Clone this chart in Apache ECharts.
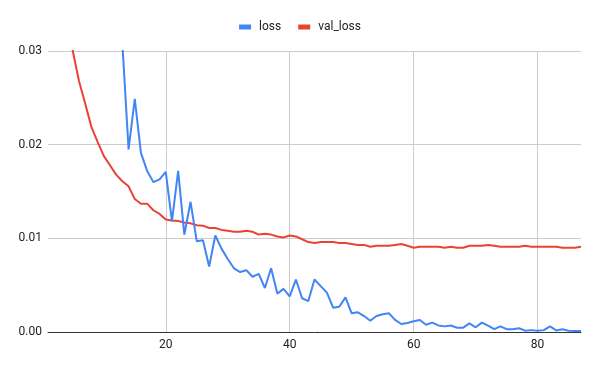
<!DOCTYPE html>
<html>
<head>
<meta charset="utf-8">
<script src="https://cdn.jsdelivr.net/npm/echarts@6/dist/echarts.min.js"></script>
<style>
html,body{margin:0;padding:0;background:#fff;}
#chart{width:600px;height:371px;}
</style>
</head>
<body>
<div id="chart"></div>
<script>
// Epoch numbers (x values)
var epochs = [1,2,3,4,5,6,7,8,9,10,11,12,13,14,15,16,17,18,19,20,
  21,22,23,24,25,26,27,28,29,30,31,32,33,34,35,36,37,38,39,40,
  41,42,43,44,45,46,47,48,49,50,51,52,53,54,55,56,57,58,59,60,
  61,62,63,64,65,66,67,68,69,70,71,72,73,74,75,76,77,78,79,80,
  81,82,83,84,85,86,87];

// Training loss (early values are above the visible range and are estimates)
var loss = [0.30,0.16,0.11,0.085,0.07,0.06,0.052,0.046,0.042,0.038,0.035,0.033,0.0308,
  0.0195,0.0249,0.0191,0.0172,0.0160,0.0163,0.0171,0.0118,0.0172,0.0104,0.0139,0.0097,
  0.0098,0.0070,0.0103,0.0089,0.0078,0.0068,0.0064,0.0066,0.0059,0.0062,0.0047,0.0068,
  0.0041,0.0046,0.0038,0.0056,0.0036,0.0033,0.0056,0.0049,0.0042,0.0026,0.0027,0.0037,
  0.0020,0.0021,0.0017,0.0012,0.0017,0.0019,0.0020,0.0013,0.00085,0.00096,0.00114,0.00128,
  0.00078,0.0010,0.0007,0.0006,0.0007,0.00046,0.00046,0.00092,0.0005,0.0010,0.00067,0.0003,
  0.0006,0.0003,0.0003,0.0004,0.00014,0.0002,0.00014,0.0002,0.0006,0.00017,0.0003,0.00014,
  0.0001,0.0001];

// Validation loss
var valLoss = [0.10,0.06,0.045,0.036,0.0300,0.0268,0.0244,0.0219,0.0203,0.0188,0.0178,0.0168,
  0.0161,0.01555,0.0142,0.0137,0.0137,0.0130,0.0126,0.0120,0.0119,0.01185,0.0117,0.0116,
  0.0114,0.01135,0.0111,0.0111,0.0109,0.0108,0.0107,0.0107,0.0108,0.0107,0.0104,0.0105,
  0.0104,0.0102,0.0101,0.0103,0.0102,0.0099,0.0096,0.0095,0.0096,0.0096,0.0096,0.0095,
  0.0095,0.0094,0.0093,0.0093,0.0091,0.0092,0.0092,0.0092,0.0093,0.0094,0.0092,0.0090,
  0.0091,0.0091,0.0091,0.0091,0.0090,0.0091,0.0090,0.0090,0.0092,0.0092,0.0092,0.0093,
  0.0092,0.0091,0.0091,0.0091,0.0091,0.0092,0.0091,0.0091,0.0091,0.0091,0.0091,0.0090,
  0.0090,0.0090,0.0091];

var xTicks = [20,40,60,80];

function pairs(xs, ys){ return xs.map(function(x,i){ return [x, ys[i]]; }); }

var chart = echarts.init(document.getElementById('chart'), null, {renderer:'canvas'});
var font = 'Roboto, Arial, sans-serif';
chart.setOption({
  animation:false,
  backgroundColor:'#fff',
  textStyle:{fontFamily:font},
  legend:{
    top:16, left:'center',
    icon:'rect', itemWidth:12, itemHeight:5, itemGap:17,
    textStyle:{fontFamily:font, fontSize:12, color:'#222', padding:[0,0,0,3]},
    data:['loss','val_loss']
  },
  grid:{left:48, right:19, top:51, bottom:39, containLabel:false},
  xAxis:{
    type:'value', min:1, max:87,
    axisLine:{show:true, onZero:false, lineStyle:{color:'#333', width:1}},
    axisTick:{show:false, customValues:xTicks},
    axisLabel:{customValues:xTicks, color:'#222', fontSize:12, fontFamily:font, margin:7},
    splitLine:{show:false}
  },
  yAxis:{
    type:'value', min:0, max:0.03, interval:0.01,
    axisLine:{show:false}, axisTick:{show:false},
    axisLabel:{color:'#222', fontSize:12, fontFamily:font, margin:6,
      formatter:function(v){ return v.toFixed(2); }},
    splitLine:{show:true, lineStyle:{color:'#cccccc', width:1}}
  },
  series:[
    {
      name:'loss', type:'line', data:pairs(epochs, loss),
      showSymbol:false, symbol:'none', clip:true,
      lineStyle:{color:'#4285F4', width:2}, itemStyle:{color:'#4285F4'},
      z:3,
      markLine:{
        silent:true, symbol:'none', label:{show:false},
        lineStyle:{color:'#cccccc', width:1, type:'solid'},
        data:xTicks.map(function(v){ return {xAxis:v}; }),
        z:1
      }
    },
    {
      name:'val_loss', type:'line', data:pairs(epochs, valLoss),
      showSymbol:false, symbol:'none', clip:true,
      lineStyle:{color:'#EA4335', width:2}, itemStyle:{color:'#EA4335'},
      z:2
    }
  ]
});
</script>
</body>
</html>
